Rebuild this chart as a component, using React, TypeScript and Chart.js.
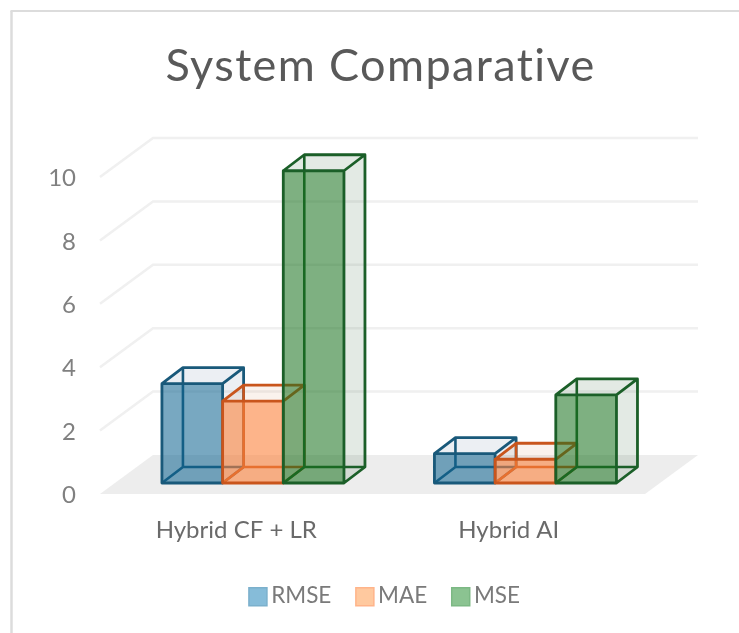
import React, { useEffect, useRef } from "react";
import { Chart, registerables } from "chart.js";

Chart.register(...registerables);

const categories = ["Hybrid CF + LR", "Hybrid AI"];
const rmseValues = [3.18, 0.94];
const maeValues = [2.62, 0.76];
const mseValues = [10, 2.82];
const seriesNames = ["RMSE", "MAE", "MSE"];
const frontFills = ["rgba(15,100,145,0.56)", "rgba(252,130,60,0.6)", "rgba(25,115,30,0.56)"];
const edgeColors = ["#19597a", "#c9551c", "#1b5f28"];
const faceFills = ["rgba(40,80,120,0.09)", "rgba(200,110,60,0.09)", "rgba(40,90,50,0.13)"];
const legendFills = ["#86bcd9", "#ffc99f", "#8bc391"];
const legendEdges = ["#7bb0cc", "#ffb48a", "#7cb884"];
const yTicks = { min: 0, max: 10, step: 2 };

const FONT = "Lato";
const SHIFT_X = 16.7;
const SHIFT_Y = 11;
const DEPTH_X = 21;
const DEPTH_Y = 16;
const SCALE = 0.985;
const WALL_X = 53;
const WALL_Y = 39;

const threeD = {
  id: "threeD",
  beforeDraw(chart: any) {
    const { ctx, chartArea: a, scales } = chart;
    const y = scales.y;
    ctx.save();
    ctx.fillStyle = "#ffffff";
    ctx.fillRect(0, 0, chart.width, chart.height);
    ctx.strokeStyle = "#dcdcdc";
    ctx.lineWidth = 2.5;
    ctx.beginPath();
    ctx.moveTo(11.5, chart.height);
    ctx.lineTo(11.5, 11);
    ctx.stroke();
    ctx.lineWidth = 1.8;
    ctx.beginPath();
    ctx.moveTo(10.5, 11);
    ctx.lineTo(chart.width, 11);
    ctx.stroke();
    // floor
    const y0 = y.getPixelForValue(0);
    ctx.fillStyle = "#ededed";
    ctx.beginPath();
    ctx.moveTo(a.left, y0);
    ctx.lineTo(a.right, y0);
    ctx.lineTo(a.right + WALL_X, y0 - WALL_Y);
    ctx.lineTo(a.left + WALL_X, y0 - WALL_Y);
    ctx.closePath();
    ctx.fill();
    // grid lines on the side and back walls
    ctx.strokeStyle = "#f0f0f0";
    ctx.lineWidth = 2.5;
    for (const t of y.ticks) {
      if (t.value === 0) continue;
      const py = y.getPixelForValue(t.value);
      ctx.beginPath();
      ctx.moveTo(a.left, py);
      ctx.lineTo(a.left + WALL_X, py - WALL_Y);
      ctx.lineTo(a.right + WALL_X, py - WALL_Y);
      ctx.stroke();
    }
    ctx.restore();
  },
  afterLayout(chart: any) {
    const { ctx } = chart;
    const title = chart.titleBlock;
    const legend = chart.legend;
    if (title) {
      title.left += 58;
      title.right += 58;
      if (!title.__spaced) {
        title.__spaced = true;
        const drawTitle = title.draw.bind(title);
        title.draw = () => {
          ctx.save();
          ctx.letterSpacing = "1.4px";
          drawTitle();
          ctx.restore();
        };
      }
    }
    if (legend) {
      legend.left += 64.5;
      legend.right += 64.5;
      if (!legend.__swatches) {
        legend.__swatches = true;
        const drawLegend = legend.draw.bind(legend);
        legend.draw = () => {
          drawLegend();
          ctx.save();
          legend.legendHitBoxes.forEach((h: any, i: number) => {
            const cx = h.left + 4;
            const cy = h.top + 12;
            ctx.fillStyle = legendFills[i];
            ctx.strokeStyle = legendEdges[i];
            ctx.lineWidth = 1.5;
            ctx.fillRect(cx - 9, cy - 9, 18, 18);
            ctx.strokeRect(cx - 9, cy - 9, 18, 18);
          });
          ctx.restore();
        };
      }
    }
  },
  beforeDatasetsDraw(chart: any) {
    const { ctx, scales } = chart;
    const y0 = scales.y.getPixelForValue(0);
    const baseY = y0 - SHIFT_Y;
    const tx = (v: number) => baseY - (y0 - v) * SCALE;
    chart.data.datasets.forEach((_: any, i: number) => {
      const meta = chart.getDatasetMeta(i);
      const stroke = edgeColors[i];
      // back and side faces
      meta.data.forEach((bar: any) => {
        const L = bar.x - bar.width / 2 + SHIFT_X;
        const R = bar.x + bar.width / 2 + SHIFT_X;
        const T = tx(bar.y);
        const B = baseY;
        ctx.save();
        ctx.fillStyle = faceFills[i];
        ctx.beginPath();
        ctx.moveTo(R, T);
        ctx.lineTo(R + DEPTH_X, T - DEPTH_Y);
        ctx.lineTo(R + DEPTH_X, B - DEPTH_Y);
        ctx.lineTo(R, B);
        ctx.closePath();
        ctx.fill();
        ctx.beginPath();
        ctx.moveTo(L, T);
        ctx.lineTo(L + DEPTH_X, T - DEPTH_Y);
        ctx.lineTo(R + DEPTH_X, T - DEPTH_Y);
        ctx.lineTo(R, T);
        ctx.closePath();
        ctx.fill();
        ctx.strokeStyle = stroke;
        ctx.lineWidth = 2.6;
        ctx.lineJoin = "round";
        ctx.beginPath();
        ctx.moveTo(L + DEPTH_X, T - DEPTH_Y);
        ctx.lineTo(L + DEPTH_X, B - DEPTH_Y);
        ctx.lineTo(R + DEPTH_X, B - DEPTH_Y);
        ctx.moveTo(L + DEPTH_X, B - DEPTH_Y);
        ctx.lineTo(L, B);
        ctx.stroke();
        ctx.restore();
      });
      // front faces, through the library's bar elements
      ctx.save();
      ctx.translate(SHIFT_X, baseY);
      ctx.scale(1, SCALE);
      ctx.translate(0, -y0);
      meta.controller.draw();
      ctx.restore();
      // visible edges
      meta.data.forEach((bar: any) => {
        const L = bar.x - bar.width / 2 + SHIFT_X;
        const R = bar.x + bar.width / 2 + SHIFT_X;
        const T = tx(bar.y);
        const B = baseY;
        ctx.save();
        ctx.strokeStyle = stroke;
        ctx.lineWidth = 2.8;
        ctx.lineJoin = "round";
        ctx.beginPath();
        ctx.rect(L, T, R - L, B - T);
        ctx.moveTo(L, T);
        ctx.lineTo(L + DEPTH_X, T - DEPTH_Y);
        ctx.lineTo(R + DEPTH_X, T - DEPTH_Y);
        ctx.lineTo(R + DEPTH_X, B - DEPTH_Y);
        ctx.lineTo(R, B);
        ctx.moveTo(R, T);
        ctx.lineTo(R + DEPTH_X, T - DEPTH_Y);
        ctx.stroke();
        ctx.restore();
      });
    });
    return false;
  },
};

export default function App() {
  const ref = useRef<HTMLCanvasElement>(null);
  useEffect(() => {
    document.body.style.margin = "0";
    document.documentElement.style.overflow = "hidden";
    const canvas = ref.current!;
    const chart = new Chart(canvas, {
      type: "bar",
      data: {
        labels: categories,
        datasets: [rmseValues, maeValues, mseValues].map((data, i) => ({
          label: seriesNames[i],
          data,
          backgroundColor: frontFills[i],
          borderWidth: 0,
          categoryPercentage: 0.668,
          barPercentage: 1,
        })),
      },
      options: {
        responsive: false,
        animation: false,
        layout: { padding: { left: 0, right: 94, top: 0, bottom: 15.75 } },
        scales: {
          x: {
            grid: { display: false },
            border: { display: false },
            ticks: { color: "#6a6a6a", font: { family: FONT, size: 24 }, padding: 14, maxRotation: 0 },
            afterFit(s: any) { s.height = 61.25; },
          },
          y: {
            min: yTicks.min,
            max: yTicks.max,
            grid: { display: false },
            border: { display: false },
            ticks: { stepSize: yTicks.step, color: "#808080", font: { family: FONT, size: 24 }, padding: 16, labelOffset: 1.5 },
            afterFit(s: any) { s.width = 100; },
          },
        },
        plugins: {
          title: {
            display: true,
            text: "System Comparative",
            color: "#595959",
            font: { family: FONT, size: 45, weight: "normal" },
            padding: { top: 39, bottom: 84 },
          },
          legend: {
            position: "bottom",
            labels: {
              boxWidth: 6,
              boxHeight: 22,
              color: "#7a7a7a",
              font: { family: FONT, size: 22.5 },
              padding: 29.5,
              generateLabels(c: any) {
                return c.data.datasets.map((d: any, i: number) => ({
                  text: d.label,
                  datasetIndex: i,
                  fillStyle: "rgba(0,0,0,0)",
                  strokeStyle: "rgba(0,0,0,0)",
                  lineWidth: 0,
                  fontColor: "#7a7a7a",
                }));
              },
            },
          },
          tooltip: { enabled: false },
        },
      },
      plugins: [threeD],
    } as any);
    return () => chart.destroy();
  }, []);
  return <canvas ref={ref} width={739} height={633} style={{ display: "block" }} />;
}
